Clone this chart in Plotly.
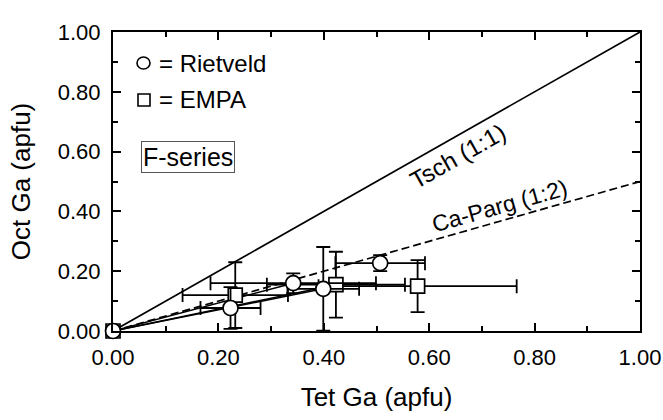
import math
import plotly.graph_objects as go

# Rietveld (circles)
riet_x = [0.0, 0.223, 0.342, 0.399, 0.507]
riet_y = [0.0, 0.077, 0.160, 0.141, 0.227]
riet_xerr = [0.0, 0.057, 0.157, 0.068, 0.085]
riet_yerr = [0.0, 0.070, 0.033, 0.140, 0.027]

# EMPA (squares)
empa_x = [0.0, 0.232, 0.423, 0.578]
empa_y = [0.0, 0.120, 0.155, 0.150]
empa_xerr = [0.0, 0.100, 0.131, 0.188]
empa_yerr = [0.0, 0.110, 0.110, 0.087]

# reference substitution lines
ref_x = [0.0, 1.0]
tsch_y = [0.0, 1.0]
parg_y = [0.0, 0.5]

tick_vals = [0.0, 0.2, 0.4, 0.6, 0.8, 1.0]
tick_text = ["0.00", "0.20", "0.40", "0.60", "0.80", "1.00"]

FONT = "Liberation Sans, Arial, Helvetica, sans-serif"
W, H = 663, 420
ML, MR, MT, MB = 113, 23, 32, 89
PW, PH = W - ML - MR, H - MT - MB

def px2paper(xp, yp):
    return (xp - ML) / PW, (H - MB - yp) / PH

fig = go.Figure()

fig.add_trace(go.Scatter(x=ref_x, y=tsch_y, mode="lines",
                         line=dict(color="black", width=1.7), cliponaxis=False))
fig.add_trace(go.Scatter(x=ref_x, y=parg_y, mode="lines",
                         line=dict(color="black", width=1.7, dash="8px,4px"), cliponaxis=False))

# fan lines from origin to selected points
for px, py in [(riet_x[2], riet_y[2]), (riet_x[3], riet_y[3]), (empa_x[2], empa_y[2])]:
    fig.add_trace(go.Scatter(x=[riet_x[0], px], y=[riet_y[0], py], mode="lines",
                             line=dict(color="black", width=1.5)))

err = dict(color="black", thickness=1.8, width=7)
fig.add_trace(go.Scatter(
    x=empa_x, y=empa_y, mode="markers", cliponaxis=False,
    error_x=dict(type="data", array=empa_xerr, **err),
    error_y=dict(type="data", array=empa_yerr, **err),
    marker=dict(symbol="square", size=14, color="white", line=dict(color="black", width=1.7))))
fig.add_trace(go.Scatter(
    x=riet_x, y=riet_y, mode="markers", cliponaxis=False,
    error_x=dict(type="data", array=riet_xerr, **err),
    error_y=dict(type="data", array=riet_yerr, **err),
    marker=dict(symbol="circle", size=15, color="white", line=dict(color="black", width=1.7))))

ang_t = -math.degrees(math.atan(PH / PW))
ang_p = -math.degrees(math.atan(0.5 * PH / PW))

lx1, ly1 = px2paper(157, 63)
lx2, ly2 = px2paper(157, 100)
fx, fy = px2paper(141, 157)

ann = [
    dict(x=0.653, y=0.585, xref="x", yref="y", text="Tsch (1:1)", textangle=ang_t,
         showarrow=False, font=dict(size=24, color="black", family=FONT)),
    dict(x=0.733, y=0.418, xref="x", yref="y", text="Ca-Parg (1:2)", textangle=ang_p,
         showarrow=False, font=dict(size=23, color="black", family=FONT)),
    dict(x=lx1, y=ly1, xref="paper", yref="paper", text="= Rietveld",
         xanchor="left", yanchor="middle", showarrow=False,
         font=dict(size=24, color="black", family=FONT)),
    dict(x=lx2, y=ly2, xref="paper", yref="paper", text="= EMPA",
         xanchor="left", yanchor="middle", showarrow=False,
         font=dict(size=24, color="black", family=FONT)),
    dict(x=fx, y=fy, xref="paper", yref="paper", text="F-series",
         xanchor="left", yanchor="middle", showarrow=False, borderpad=1,
         bordercolor="#555", borderwidth=1,
         font=dict(size=25, color="black", family=FONT)),
]

c0x, c0y = px2paper(137, 57)
c1x, c1y = px2paper(150, 69)
s0x, s0y = px2paper(138, 94)
s1x, s1y = px2paper(150, 106)
shapes = [
    dict(type="circle", xref="paper", yref="paper", x0=c0x, x1=c1x, y0=c1y, y1=c0y,
         line=dict(color="black", width=1.6), fillcolor="white"),
    dict(type="rect", xref="paper", yref="paper", x0=s0x, x1=s1x, y0=s1y, y1=s0y,
         line=dict(color="black", width=1.6), fillcolor="white"),
]

axis_common = dict(range=[0, 1], tickvals=tick_vals, ticktext=tick_text,
                   ticks="inside", ticklen=8, tickwidth=1.8, tickcolor="black",
                   showline=True, linewidth=2, linecolor="black", mirror="allticks",
                   showgrid=False, zeroline=False, ticklabelstandoff=6,
                   tickfont=dict(size=22, color="black", family=FONT),
                   minor=dict(ticks="inside", ticklen=5, tickwidth=1.5, dtick=0.1,
                              tickcolor="black", showgrid=False))

fig.update_layout(
    width=W, height=H, margin=dict(l=ML, r=MR, t=MT, b=MB, autoexpand=False),
    paper_bgcolor="white", plot_bgcolor="white", showlegend=False,
    font=dict(family=FONT, color="black"),
    xaxis=dict(**axis_common, title=dict(text="Tet Ga (apfu)", standoff=18,
                                         font=dict(size=26, color="black", family=FONT))),
    yaxis=dict(**axis_common, title=dict(text="Oct Ga (apfu)", standoff=20,
                                         font=dict(size=26, color="black", family=FONT))),
    annotations=ann,
    shapes=shapes,
)

fig.write_html("out.html")
